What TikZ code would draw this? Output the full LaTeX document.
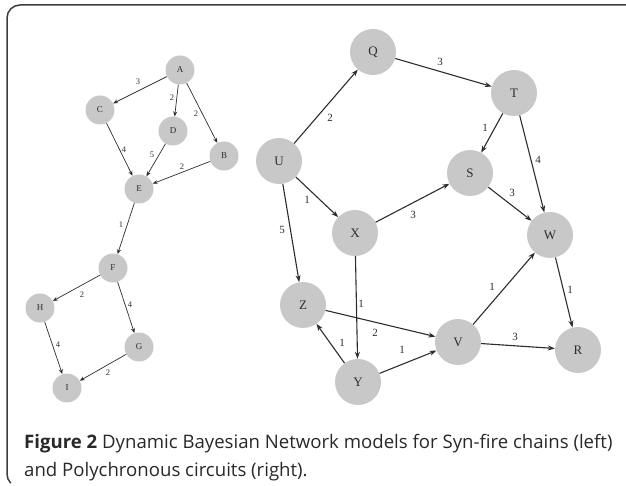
\documentclass[tikz,border=0pt]{standalone}
\usepackage{fontspec}
\setsansfont{Open Sans}
\newfontfamily\graphfont{Liberation Serif}
\usetikzlibrary{arrows.meta}
\definecolor{nodegray}{RGB}{200,200,200}
\definecolor{edgegray}{RGB}{45,45,45}
\definecolor{framegray}{RGB}{60,60,60}
\definecolor{capgray}{RGB}{40,40,40}
\begin{document}
\begin{tikzpicture}[x=1pt,y=-1pt,
  sn/.style={circle,fill=nodegray,minimum size=29pt,inner sep=0pt,text=edgegray,font=\graphfont\fontsize{9}{9}\selectfont},
  bn/.style={circle,fill=nodegray,minimum size=46pt,inner sep=0pt,text=edgegray,font=\graphfont\fontsize{13}{13}\selectfont},
  se/.style={-{Stealth[length=5pt,width=4pt]},draw=edgegray,line width=0.7pt},
  be/.style={-{Stealth[length=7pt,width=5pt]},draw=edgegray,line width=1.1pt},
  sl/.style={text=edgegray,font=\graphfont\fontsize{8.5}{8.5}\selectfont},
  bl/.style={text=edgegray,font=\graphfont\fontsize{11}{11}\selectfont}]
\useasboundingbox (0,0) rectangle (626,486);
\draw[line width=1.5pt,draw=framegray] (626,5) -- (20,5)
    arc[start angle=270,end angle=180,radius=13] -- (7,474)
    arc[start angle=180,end angle=135,radius=13];
% syn-fire chain
\node[sn] (A) at (180,70) {A};
\node[sn] (C) at (100,110) {C};
\node[sn] (D) at (173,131) {D};
\node[sn] (B) at (224,156) {B};
\node[sn] (E) at (139,189) {E};
\node[sn] (F) at (113,268) {F};
\node[sn] (H) at (40,308) {H};
\node[sn] (G) at (139,347) {G};
\node[sn] (I) at (67,388) {I};
\draw[se] (A) -- (C);
\draw[se] (A) -- (D);
\draw[se] (A) -- (B);
\draw[se] (C) -- (E);
\draw[se] (D) -- (E);
\draw[se] (B) -- (E);
\draw[se] (E) -- (F);
\draw[se] (F) -- (H);
\draw[se] (F) -- (G);
\draw[se] (H) -- (I);
\draw[se] (G) -- (I);
\node[sl] (lAC) at (138,82) {3};
\node[sl] (lAD) at (172,98) {2};
\node[sl] (lAB) at (196,114) {2};
\node[sl] (lCE) at (124,150) {4};
\node[sl] (lDE) at (152,155) {5};
\node[sl] (lBE) at (182,167) {2};
\node[sl] (lEF) at (121,225) {1};
\node[sl] (lFH) at (82,295) {2};
\node[sl] (lFG) at (130,305) {4};
\node[sl] (lHI) at (58,345) {4};
\node[sl] (lGI) at (108,373) {2};
% polychronous circuit
\node[bn] (Q) at (373,52) {Q};
\node[bn] (T) at (514,93) {T};
\node[bn] (U) at (279,161) {U};
\node[bn] (S) at (470,173) {S};
\node[bn] (X) at (355,233) {X};
\node[bn] (W) at (550,235) {W};
\node[bn] (Z) at (303,305) {Z};
\node[bn] (V) at (458,342) {V};
\node[bn] (R) at (578,350) {R};
\node[bn] (Y) at (358,382) {Y};
\draw[be] (U) -- (Q);
\draw[be] (Q) -- (T);
\draw[be] (T) -- (S);
\draw[be] (T) -- (W);
\draw[be] (U) -- (X);
\draw[be] (X) -- (S);
\draw[be] (S) -- (W);
\draw[be] (U) -- (Z);
\draw[be] (X) -- (Y);
\draw[be] (Z) -- (V);
\draw[be] (Y) -- (Z);
\draw[be] (Y) -- (V);
\draw[be] (V) -- (W);
\draw[be] (W) -- (R);
\draw[be] (V) -- (R);
\node[bl] (lUQ) at (330,118) {2};
\node[bl] (lQT) at (440,62) {3};
\node[bl] (lTS) at (485,128) {1};
\node[bl] (lTW) at (538,160) {4};
\node[bl] (lUX) at (307,200) {1};
\node[bl] (lXS) at (413,215) {3};
\node[bl] (lSW) at (512,193) {3};
\node[bl] (lUZ) at (282,230) {5};
\node[bl] (lXY) at (361,304) {1};
\node[bl] (lZV) at (375,333) {2};
\node[bl] (lYZ) at (342,343) {1};
\node[bl] (lYV) at (402,350) {1};
\node[bl] (lVW) at (492,287) {1};
\node[bl] (lWR) at (570,290) {1};
\node[bl] (lVR) at (515,337) {3};
% caption
\node[anchor=base west,inner sep=0pt,text=capgray,font=\sffamily\fontsize{18.6}{18.6}\selectfont] (cap1) at (24,448)
  {\textbf{Figure 2} Dynamic Bayesian Network models for Syn-fire chains (left)};
\node[anchor=base west,inner sep=0pt,text=capgray,font=\sffamily\fontsize{18.6}{18.6}\selectfont] (cap2) at (24,476)
  {and Polychronous circuits (right).};
\end{tikzpicture}
\end{document}
